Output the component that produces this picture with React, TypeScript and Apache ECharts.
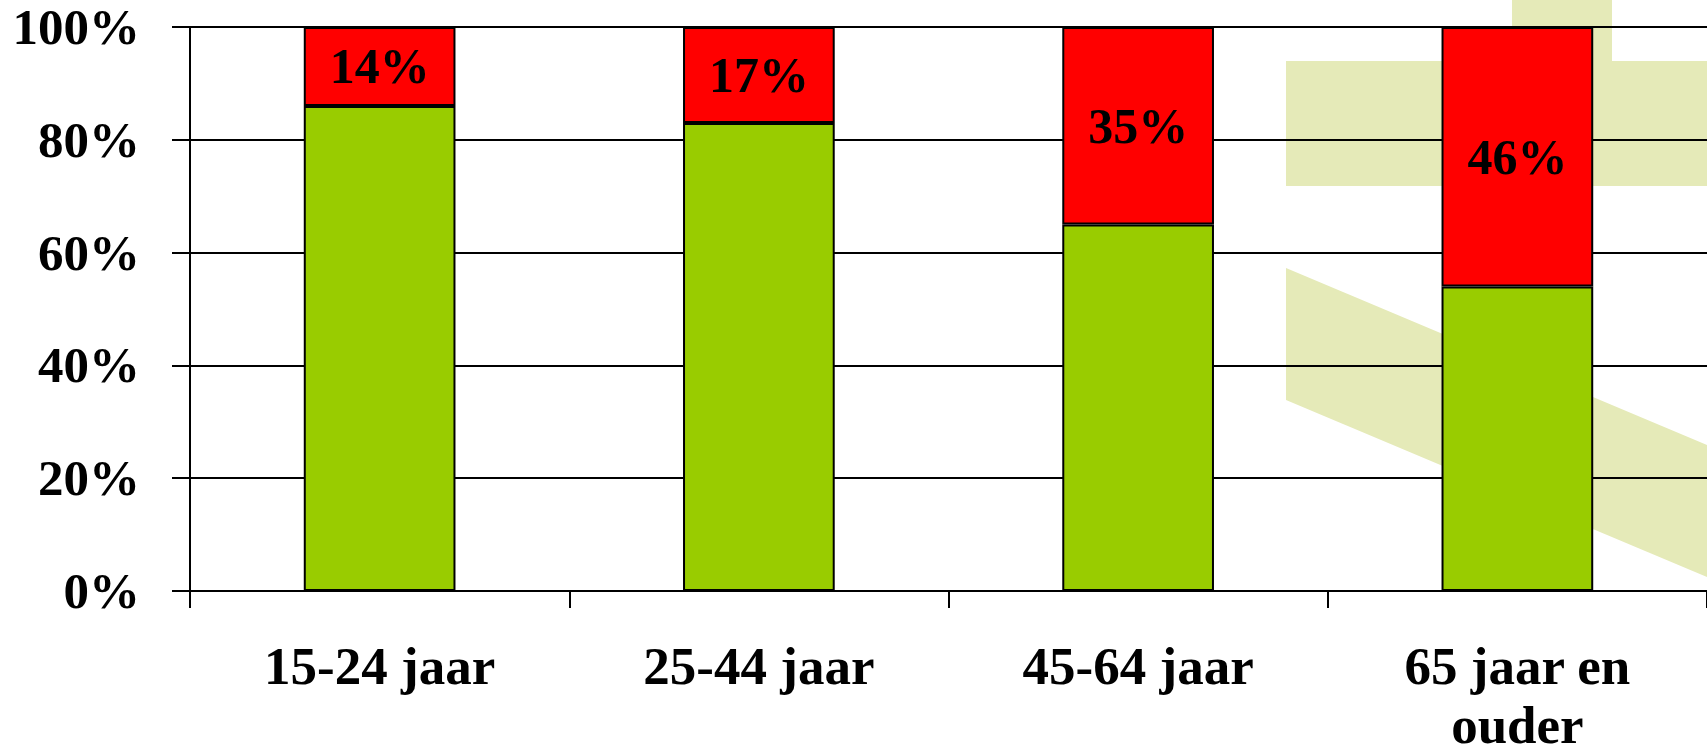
import React, { useEffect, useRef } from "react";
import * as echarts from "echarts";

const categories = ["15-24 jaar", "25-44 jaar", "45-64 jaar", "65 jaar en\nouder"];
const greenValues = [86, 83, 65, 54];
const redValues = [14, 17, 35, 46];
const yTicks = { min: 0, max: 100, interval: 20 };

const FONT = "'Liberation Serif', 'Times New Roman', serif";

export default function App() {
  const ref = useRef<HTMLDivElement>(null);
  useEffect(() => {
    document.documentElement.style.margin = "0";
    document.documentElement.style.padding = "0";
    document.body.style.margin = "0";
    document.body.style.padding = "0";
    document.body.style.overflow = "hidden";
    const chart = echarts.init(ref.current!, undefined, { renderer: "svg" });
    const wm = "#E5EAB8";
    chart.setOption({
      animation: false,
      backgroundColor: "#fff",
      graphic: [
        { type: "rect", z: -10, shape: { x: 1512, y: 0, width: 100, height: 62 }, style: { fill: wm } },
        { type: "rect", z: -10, shape: { x: 1286, y: 61, width: 421, height: 125 }, style: { fill: wm } },
        {
          type: "polygon",
          z: -10,
          shape: { points: [[1286, 268], [1707, 445], [1707, 577], [1286, 400]] },
          style: { fill: wm },
        },
      ],
      grid: {
        left: 190,
        right: 0,
        top: 27,
        bottom: 156,
        containLabel: false,
        outerBoundsMode: "none",
      },
      xAxis: {
        type: "category",
        data: categories,
        axisLine: { show: true, lineStyle: { color: "#000", width: 2 } },
        axisTick: { show: true, alignWithLabel: false, length: 17, lineStyle: { color: "#000", width: 2 } },
        axisLabel: {
          margin: 45,
          color: "#000",
          fontFamily: FONT,
          fontWeight: "bold",
          fontSize: 53,
          lineHeight: 59,
          interval: 0,
        },
        splitLine: { show: false },
      },
      yAxis: {
        type: "value",
        min: yTicks.min,
        max: yTicks.max,
        interval: yTicks.interval,
        axisLine: { show: true, lineStyle: { color: "#000", width: 2 } },
        axisTick: { show: true, length: 18, lineStyle: { color: "#000", width: 2 } },
        axisLabel: {
          formatter: "{value}%",
          margin: 50,
          color: "#000",
          fontFamily: FONT,
          fontWeight: "bold",
          fontSize: 51,
        },
        splitLine: { show: true, lineStyle: { color: "#000", width: 2 } },
      },
      series: [
        {
          type: "bar",
          stack: "total",
          barWidth: "40%",
          data: greenValues,
          itemStyle: { color: "#99CC00", borderColor: "#000", borderWidth: 2 },
          label: { show: false },
        },
        {
          type: "bar",
          stack: "total",
          barWidth: "40%",
          data: redValues,
          itemStyle: { color: "#FF0000", borderColor: "#000", borderWidth: 2 },
          label: {
            show: true,
            position: "inside",
            formatter: "{c}%",
            color: "#000",
            fontFamily: FONT,
            fontWeight: "bold",
            fontSize: 50,
          },
        },
      ],
    });
    return () => chart.dispose();
  }, []);
  return <div ref={ref} style={{ width: 1707, height: 747, overflow: "hidden" }} />;
}
